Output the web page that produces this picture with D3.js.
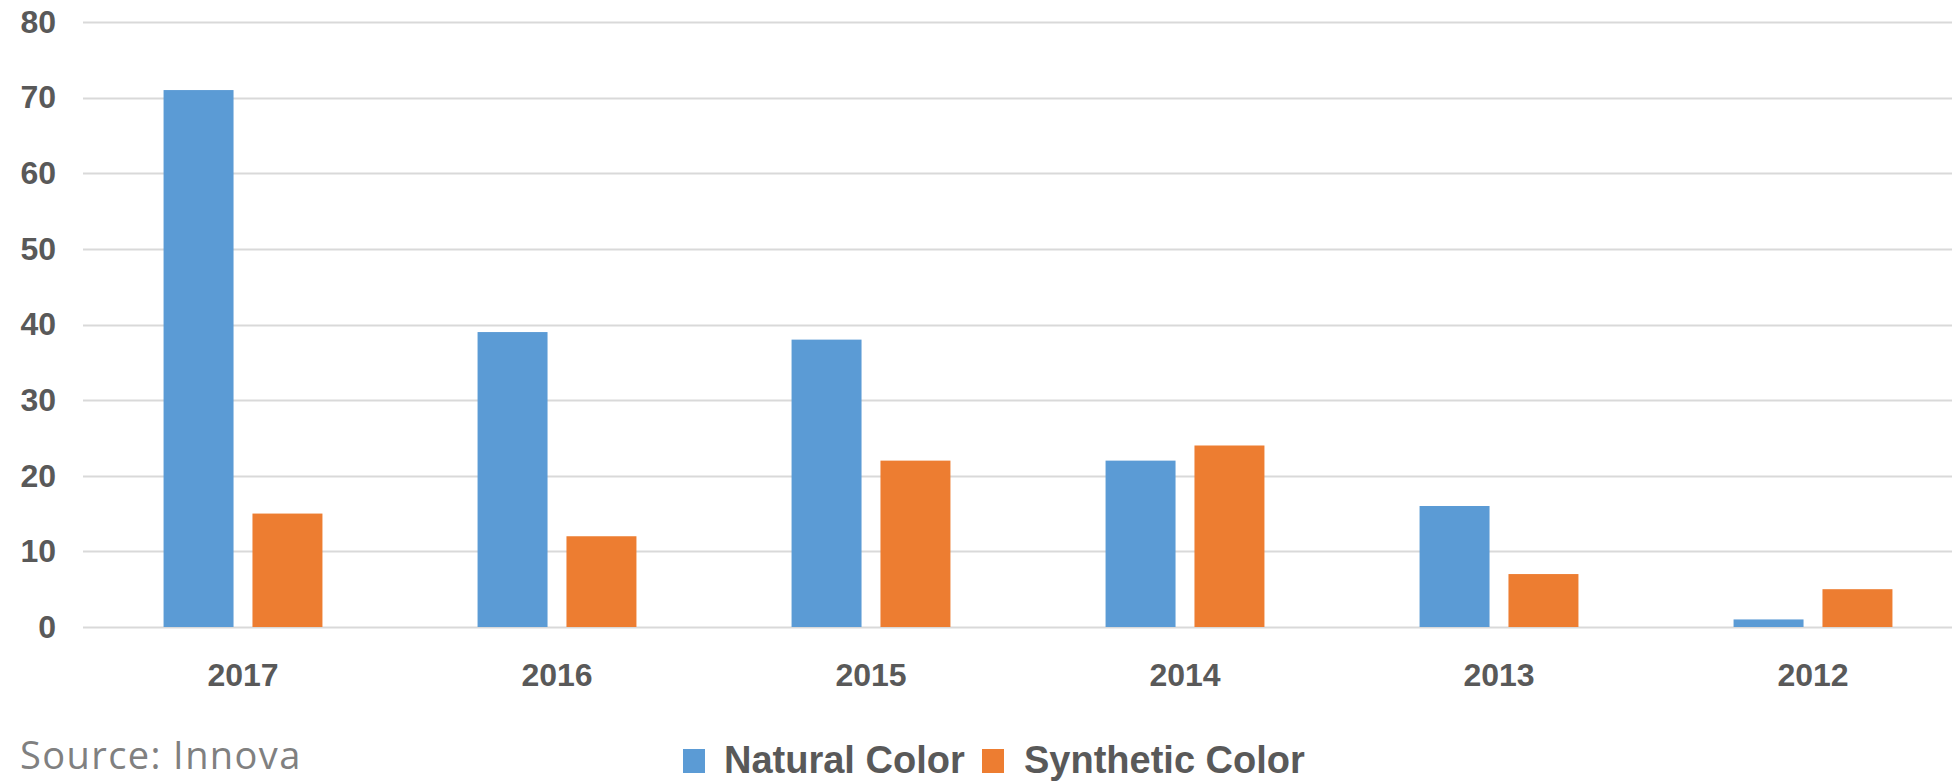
<!DOCTYPE html>
<html>
<head>
<meta charset="utf-8">
<script src="https://cdn.jsdelivr.net/npm/d3@7"></script>
<style>
  html, body { margin: 0; padding: 0; background: #ffffff; }
  svg { display: block; }
</style>
</head>
<body>
<svg id="chart" width="1952" height="781"></svg>
<script>
const categories = ["2017", "2016", "2015", "2014", "2013", "2012"];
const seriesNames = ["Natural Color", "Synthetic Color"];
const naturalValues = [71, 39, 38, 22, 16, 1];
const syntheticValues = [15, 12, 22, 24, 7, 5];
const yTicks = [0, 10, 20, 30, 40, 50, 60, 70, 80];
const sourceText = "Source: Innova";

const colors = ["#5B9BD5", "#ED7D31"];
const seriesValues = [naturalValues, syntheticValues];

const svg = d3.select("#chart");

const x0 = d3.scaleBand().domain(categories).range([86, 1970]).paddingInner(0.494).paddingOuter(0.247);
const x1 = d3.scaleBand().domain(seriesNames).range([0, x0.bandwidth()]).paddingInner(0.213);
const y = d3.scaleLinear().domain([0, 80]).range([627, 22]);

// gridlines
svg.append("g")
  .selectAll("line")
  .data(yTicks)
  .join("line")
  .attr("x1", 83).attr("x2", 1952)
  .attr("y1", d => Math.round(y(d)) + 0.5).attr("y2", d => Math.round(y(d)) + 0.5)
  .attr("stroke", "#d9d9d9").attr("stroke-width", 2);

// y axis labels
const yAxis = d3.axisLeft(y).tickValues(yTicks).tickSize(0).tickPadding(0);
const yg = svg.append("g").attr("transform", "translate(56,0)").call(yAxis);
yg.select(".domain").remove();
yg.selectAll("text")
  .attr("font-family", "'Liberation Sans', Arial, sans-serif")
  .attr("font-weight", "bold")
  .attr("font-size", 32)
  .attr("fill", "#595959");

// x axis labels
const xAxis = d3.axisBottom(x0).tickSize(0).tickPadding(0);
const xg = svg.append("g").attr("transform", "translate(0,663)").call(xAxis);
xg.select(".domain").remove();
xg.selectAll("text")
  .attr("dy", "0.71em")
  .attr("font-family", "'Liberation Sans', Arial, sans-serif")
  .attr("font-weight", "bold")
  .attr("font-size", 32)
  .attr("fill", "#595959");

// bars
const groups = svg.append("g")
  .selectAll("g")
  .data(categories)
  .join("g")
  .attr("transform", d => `translate(${x0(d)},0)`);

groups.selectAll("rect")
  .data((d, i) => seriesNames.map((s, j) => ({ s, v: seriesValues[j][i], c: colors[j] })))
  .join("rect")
  .attr("x", d => x1(d.s))
  .attr("width", x1.bandwidth())
  .attr("y", d => y(d.v))
  .attr("height", d => y(0) - y(d.v))
  .attr("fill", d => d.c);

// legend
const legendItems = [
  { name: seriesNames[0], color: colors[0], sx: 683, tx: 724 },
  { name: seriesNames[1], color: colors[1], sx: 982, tx: 1024 }
];
const lg = svg.append("g");
legendItems.forEach(it => {
  lg.append("rect").attr("x", it.sx).attr("y", 749).attr("width", 22).attr("height", 24).attr("fill", it.color);
  lg.append("text").attr("x", it.tx).attr("y", 773)
    .attr("font-family", "'Liberation Sans', Arial, sans-serif")
    .attr("font-weight", "bold")
    .attr("font-size", 38)
    .attr("fill", "#595959")
    .text(it.name);
});

// source
svg.append("text")
  .attr("x", 20).attr("y", 769)
  .attr("font-family", "'Open Sans', sans-serif")
  .attr("font-size", 38)
  .attr("letter-spacing", 1.4)
  .attr("fill", "#808080")
  .text(sourceText);
</script>
</body>
</html>
